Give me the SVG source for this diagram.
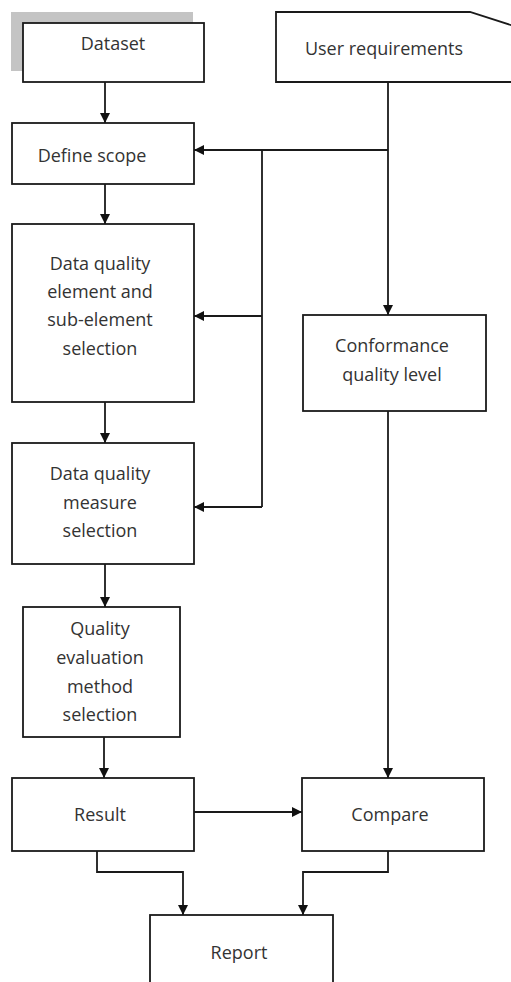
<svg xmlns="http://www.w3.org/2000/svg" width="511" height="982" viewBox="0 0 511 982">
  <defs>
    <marker id="arrow" viewBox="0 0 10 10" refX="10" refY="5" markerWidth="10" markerHeight="10" markerUnits="userSpaceOnUse" orient="auto">
      <path d="M0,0 L10,5 L0,10 Z" fill="#111"/>
    </marker>
    <style>
      .box { fill: #fff; stroke: #1a1a1a; stroke-width: 1.8; }
      .lbl { font-family: "Open Sans", "Noto Sans", "DejaVu Sans", sans-serif; font-size: 18px; fill: #333; text-anchor: middle; dominant-baseline: central; }
      .wire { fill: none; stroke: #1a1a1a; stroke-width: 1.8; }
      .arr { marker-end: url(#arrow); }
    </style>
  </defs>
  <rect width="511" height="982" fill="#fff"/>

  <!-- Dataset, with its grey shadow block -->
  <g id="dataset">
    <rect x="11" y="12" width="182" height="59" fill="#c4c4c4"/>
    <rect class="box" x="23" y="23" width="181" height="59"/>
    <text class="lbl" x="113" y="43">Dataset</text>
  </g>

  <!-- User requirements: card shape with clipped top-right corner -->
  <g id="user-requirements">
    <path class="box" d="M276,12 L470,12 L520,28 L520,82 L276,82 Z"/>
    <text class="lbl" x="384" y="48">User requirements</text>
  </g>

  <g id="define-scope">
    <rect class="box" x="12" y="123" width="182" height="61"/>
    <text class="lbl" x="92" y="155">Define scope</text>
  </g>

  <g id="element-selection">
    <rect class="box" x="12" y="224" width="182" height="178"/>
    <text class="lbl" x="100" y="263">Data quality</text>
    <text class="lbl" x="100" y="291">element and</text>
    <text class="lbl" x="100" y="319">sub-element</text>
    <text class="lbl" x="100" y="348">selection</text>
  </g>

  <g id="conformance-level">
    <rect class="box" x="303" y="315" width="183" height="96"/>
    <text class="lbl" x="392" y="345">Conformance</text>
    <text class="lbl" x="392" y="374">quality level</text>
  </g>

  <g id="measure-selection">
    <rect class="box" x="12" y="443" width="182" height="121"/>
    <text class="lbl" x="100" y="473">Data quality</text>
    <text class="lbl" x="100" y="502">measure</text>
    <text class="lbl" x="100" y="530">selection</text>
  </g>

  <g id="method-selection">
    <rect class="box" x="23" y="607" width="157" height="130"/>
    <text class="lbl" x="100" y="628">Quality</text>
    <text class="lbl" x="100" y="657">evaluation</text>
    <text class="lbl" x="100" y="686">method</text>
    <text class="lbl" x="100" y="714">selection</text>
  </g>

  <g id="result">
    <rect class="box" x="12" y="778" width="182" height="73"/>
    <text class="lbl" x="100" y="814">Result</text>
  </g>

  <g id="compare">
    <rect class="box" x="302" y="778" width="182" height="73"/>
    <text class="lbl" x="390" y="814">Compare</text>
  </g>

  <g id="report">
    <rect class="box" x="150" y="915" width="183" height="80"/>
    <text class="lbl" x="239" y="952">Report</text>
  </g>

  <g id="connectors">
    <path class="wire arr" d="M105,82 V123"/>
    <path class="wire arr" d="M105,184 V224"/>
    <path class="wire arr" d="M105,402 V443"/>
    <path class="wire arr" d="M105,564 V607"/>
    <path class="wire arr" d="M104,737 V778"/>
    <!-- requirements feed -->
    <path class="wire" d="M388,82 V150"/>
    <path class="wire arr" d="M388,150 H194"/>
    <path class="wire" d="M262,150 V507"/>
    <path class="wire arr" d="M262,316 H194"/>
    <path class="wire arr" d="M262,507 H194"/>
    <path class="wire arr" d="M388,150 V315"/>
    <path class="wire arr" d="M388,411 V778"/>
    <path class="wire arr" d="M194,812 H302"/>
    <path class="wire arr" d="M97,851 V872 H183 V915"/>
    <path class="wire arr" d="M388,851 V872 H303 V915"/>
  </g>
</svg>
